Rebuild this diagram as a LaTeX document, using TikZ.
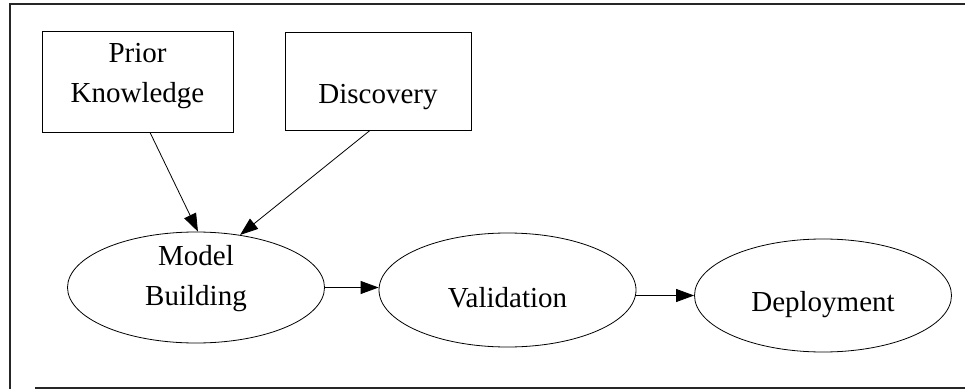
\documentclass[tikz,border=0pt]{standalone}
\usepackage{fontspec}
\setmainfont{Liberation Serif}
\usetikzlibrary{shapes.geometric,arrows.meta}
\begin{document}
\begin{tikzpicture}[x=1pt,y=-1pt,
  every node/.style={font=\fontsize{29}{40}\selectfont, inner sep=0pt, align=center},
  boxnode/.style={draw, line width=0.8pt, rectangle},
  ellnode/.style={draw, line width=0.8pt, ellipse, minimum width=257pt, minimum height=111pt},
  conn/.style={line width=0.8pt, -{Triangle[length=18pt,width=13pt]}},
  frame/.style={line width=1.3pt, draw=black!85}
]
\useasboundingbox (0,0) rectangle (965,390);
% frame (left, top, bottom; no right edge visible)
\draw[frame] (965,4) -- (10,4) -- (10,389);
\draw[frame] (35,388) -- (965,388);

% boxes
\node[boxnode, minimum width=191pt, minimum height=101pt,
  label={[yshift=5pt]center:Prior\\Knowledge}] (pk) at (137.5,81.5) {};
\node[boxnode, minimum width=186pt, minimum height=98pt,
  label={[yshift=-16pt]center:Discovery}] (disc) at (378,81) {};

% ellipses
\node[ellnode, label={[yshift=9pt]center:Model\\Building}] (mb) at (196,287.5) {};
\node[ellnode, minimum height=114pt, label={[yshift=-8pt]center:Validation}] (val) at (507.5,290) {};
\node[ellnode, minimum height=113pt, label={[yshift=-9pt]center:Deployment}] (dep) at (823,295.5) {};

% connectors
\draw[conn] ([xshift=12.5pt]pk.south) -- (mb.88);
\draw[conn] ([xshift=-8pt]disc.south) -- (mb.50);
\draw[conn] (mb.east) -- (mb.east -| val.west);
\draw[conn] (val.east |- dep.west) -- (dep.west);
\end{tikzpicture}
\end{document}
